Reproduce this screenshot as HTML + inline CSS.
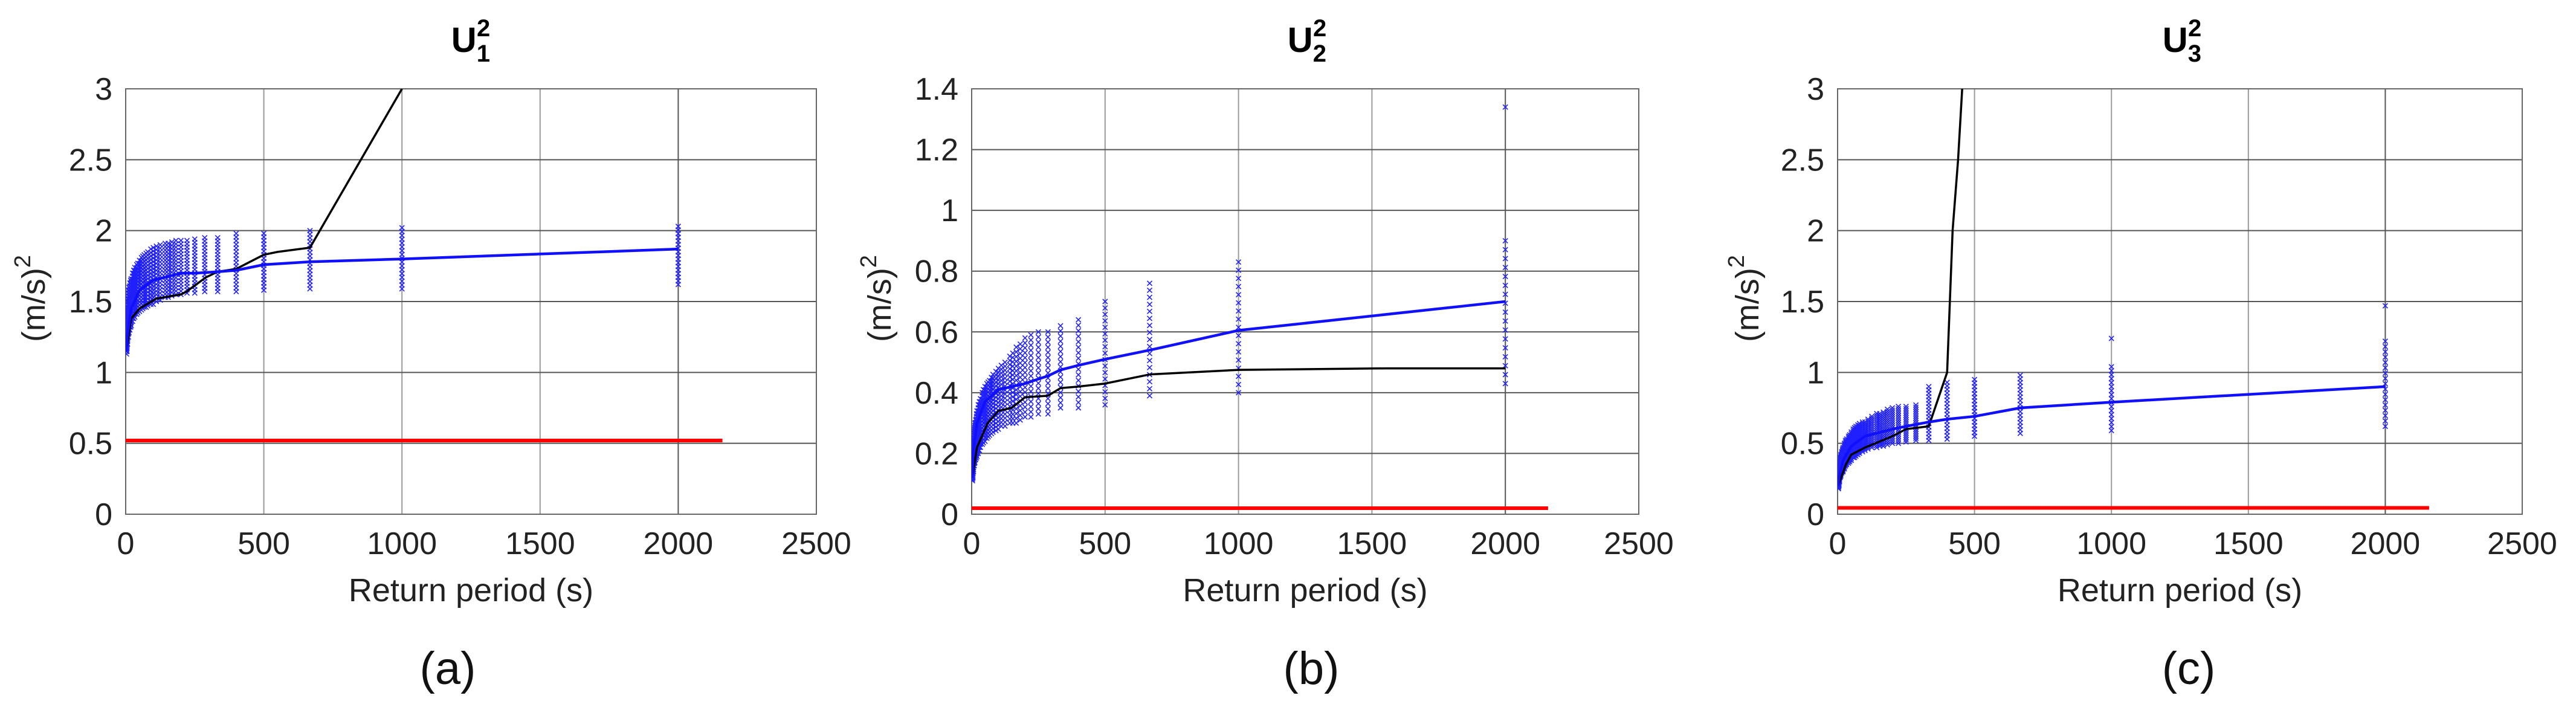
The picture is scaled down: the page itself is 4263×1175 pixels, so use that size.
<!DOCTYPE html>
<html><head><meta charset="utf-8"><style>
html,body{margin:0;padding:0;background:#fff;}
svg{display:block;font-family:"Liberation Sans",sans-serif;}
</style></head><body>
<svg id="chart" width="4263" height="1175" viewBox="0 0 4263 1175" xmlns="http://www.w3.org/2000/svg"></svg>
<script>
// ---------- Panel (a) data ----------
const aBlueT=[2,5,20,50,100,200,250,333,400,500,667,1000,2000];
const aBlueV=[1.15,1.25,1.45,1.58,1.65,1.70,1.70,1.71,1.72,1.76,1.78,1.80,1.87];
const aBlackT=[2,20,50,110,200,220,290,333,400,500,550,667,1000];
const aBlackV=[1.15,1.38,1.45,1.52,1.55,1.57,1.67,1.71,1.73,1.83,1.85,1.88,3.0];
const aColT=[3,5,7,10,12,15,18,20,25,29,33,40,44,50,57,62,67,74,80,91,100,111,125,143,154,167,182,200,222,250,286,333,400,500,667,1000,2000];
const aColLo=[1.13,1.15,1.2,1.25,1.28,1.3,1.32,1.33,1.36,1.38,1.39,1.41,1.42,1.43,1.44,1.45,1.46,1.46,1.47,1.48,1.48,1.5,1.51,1.53,1.53,1.54,1.55,1.55,1.56,1.56,1.57,1.57,1.57,1.58,1.59,1.59,1.62];
const aColHi=[1.4,1.45,1.52,1.58,1.6,1.63,1.65,1.66,1.7,1.72,1.74,1.76,1.77,1.79,1.81,1.82,1.83,1.84,1.85,1.87,1.88,1.89,1.9,1.91,1.91,1.92,1.93,1.93,1.93,1.94,1.95,1.95,1.98,1.98,2.0,2.02,2.03];
const aRed=0.52;
// ---------- Panel (b) data ----------
const bBlueT=[2,5,20,50,100,200,250,286,333,400,500,667,1000,2000];
const bBlueV=[0.12,0.2,0.30,0.37,0.41,0.43,0.445,0.455,0.475,0.49,0.51,0.54,0.605,0.70];
const bBlackT=[2,20,60,100,150,200,286,333,400,500,667,1000,1550,2000];
const bBlackV=[0.12,0.22,0.30,0.34,0.35,0.385,0.39,0.415,0.42,0.43,0.46,0.475,0.48,0.48];
const bColT=[3,5,7,10,12,15,18,20,25,29,33,40,44,50,57,62,67,74,80,91,100,111,125,143,154,167,182,200,222,250,286,333,400,500,667,1000,2000];
const bColLo=[0.11,0.12,0.14,0.16,0.17,0.18,0.185,0.19,0.2,0.21,0.22,0.23,0.235,0.24,0.25,0.255,0.26,0.265,0.27,0.275,0.28,0.29,0.29,0.3,0.3,0.3,0.31,0.32,0.32,0.33,0.33,0.35,0.35,0.36,0.39,0.40,0.43];
const bColHi=[0.18,0.22,0.25,0.28,0.3,0.31,0.33,0.34,0.36,0.37,0.38,0.40,0.41,0.42,0.43,0.435,0.44,0.45,0.46,0.47,0.48,0.49,0.5,0.52,0.53,0.55,0.56,0.58,0.59,0.60,0.60,0.62,0.64,0.70,0.76,0.83,0.90];
const bOutT=[2000];
const bOutV=[1.34];
const bRed=0.02;
// ---------- Panel (c) data ----------
const cBlueT=[2,5,20,50,100,200,250,333,400,500,667,1000,2000];
const cBlueV=[0.2,0.26,0.38,0.48,0.55,0.60,0.62,0.65,0.67,0.69,0.75,0.79,0.90];
const cBlackT=[2,30,50,100,200,250,333,400,420,440,455];
const cBlackV=[0.2,0.35,0.42,0.47,0.55,0.60,0.62,1.0,2.0,2.5,3.0];
const cColT=[3,5,7,10,12,15,18,20,25,29,33,40,44,50,57,62,67,74,80,91,100,111,125,143,154,167,182,200,222,250,286,333,400,500,667,1000,2000];
const cColLo=[0.18,0.2,0.23,0.26,0.27,0.29,0.3,0.3,0.32,0.34,0.35,0.36,0.37,0.38,0.4,0.4,0.41,0.42,0.43,0.44,0.45,0.46,0.47,0.47,0.48,0.48,0.49,0.5,0.5,0.51,0.52,0.52,0.53,0.55,0.57,0.59,0.62];
const cColHi=[0.26,0.3,0.35,0.4,0.42,0.44,0.46,0.47,0.5,0.52,0.53,0.55,0.56,0.58,0.6,0.61,0.62,0.63,0.64,0.65,0.65,0.67,0.69,0.71,0.71,0.72,0.74,0.75,0.76,0.76,0.77,0.90,0.93,0.95,0.98,1.04,1.22];
const cOutT=[1000,2000];
const cOutV=[1.24,1.47];
const cRed=0.045;
// ticks
const xTicks=[0,500,1000,1500,2000,2500];
const yTicksA=[0,0.5,1,1.5,2,2.5,3];
const yTicksB=[0,0.2,0.4,0.6,0.8,1,1.2,1.4];
const yTicksC=[0,0.5,1,1.5,2,2.5,3];

const NS="http://www.w3.org/2000/svg";
const svg=document.getElementById('chart');
function mk(tag,attrs,parent){const e=document.createElementNS(NS,tag);for(const k in attrs)e.setAttribute(k,attrs[k]);(parent||svg).appendChild(e);return e;}

function panel(p){
  const g=mk('g',{});
  
  
  const L=p.left,R=p.right,T=147,B=851;
  const sx=v=>L+(v/2500)*(R-L);
  const sy=v=>B-(v/p.ymax)*(B-T);
  const cp=mk('clipPath',{id:'clip'+p.id},g);
  mk('rect',{x:L,y:T,width:R-L,height:B-T},cp);
  xTicks.forEach(t=>{
    const l=mk('line',{x1:sx(t),x2:sx(t),y1:T,y2:B,stroke:t===2000?'#555':'#999','stroke-width':2},g);
    
    
    const tx=mk('text',{x:sx(t),y:917,'font-size':52,'text-anchor':'middle',fill:'#222'},g);
    tx.textContent=t;
    
    
  });
  p.yticks.forEach(t=>{
    const l=mk('line',{x1:L,x2:R,y1:sy(t),y2:sy(t),stroke:'#555','stroke-width':2},g);
    
    
    const tx=mk('text',{x:L-22,y:sy(t)+18,'font-size':52,'text-anchor':'end',fill:'#222'},g);
    tx.textContent=t;
    
    
  });
  const fr=mk('rect',{x:L,y:T,width:R-L,height:B-T,fill:'none',stroke:'#666','stroke-width':2},g);
  
  
  const d=mk('g',{'clip-path':'url(#clip'+p.id+')'},g);
  const sc=mk('g',{stroke:'#2020ff','stroke-width':1.6},d);
  
  
  const mark=(x,y)=>{mk('path',{d:`M${x-4},${y-4}L${x+4},${y+4}M${x-4},${y+4}L${x+4},${y-4}`},sc);};
  p.colT.forEach((t,i)=>{
    const n=16;
    for(let k=0;k<=n;k++){const v=p.lo[i]+(p.hi[i]-p.lo[i])*k/n;mark(sx(t),sy(v));}
  });
  (p.outT||[]).forEach((t,i)=>mark(sx(t),sy(p.outV[i])));
  const red=mk('line',{x1:sx(0),x2:sx(2160),y1:sy(p.red),y2:sy(p.red),stroke:'#ff0000','stroke-width':6},d);
  
  
  const pl=(ts,vs,col,w,name)=>{const e=mk('polyline',{points:ts.map((t,i)=>sx(t)+','+sy(vs[i])).join(' '),fill:'none',stroke:col,'stroke-width':w},d);
    
    };
  pl(p.blackT,p.blackV,'#000',3.5,'fitted-line');
  pl(p.blueT,p.blueV,'#1010ff',4.5,'mean-line');
  const tt=mk('text',{x:p.tx,y:86,'font-size':58,'font-weight':'bold','text-anchor':'middle'},g);
  tt.innerHTML='U<tspan dy="16" font-size="40">'+p.sub+'</tspan><tspan dx="-22" dy="-42" font-size="40">2</tspan>';
  
  
  const xt=mk('text',{x:(L+R)/2,y:995,'font-size':54,'text-anchor':'middle',fill:'#222'},g);
  xt.textContent='Return period (s)';
  
  
  const yt=mk('text',{x:0,y:0,'font-size':54,'text-anchor':'middle',fill:'#222',transform:`translate(${p.ylx},494) rotate(-90)`},g);
  yt.innerHTML='(m/s)<tspan dy="-24" font-size="38">2</tspan>';
  
  
  const cap=mk('text',{x:p.capx,y:1132,'font-size':76,'text-anchor':'middle',fill:'#111'},g);
  cap.textContent='('+p.id+')';
  
  
}
panel({id:'a',left:208,right:1351,ymax:3,yticks:yTicksA,colT:aColT,lo:aColLo,hi:aColHi,red:aRed,blueT:aBlueT,blueV:aBlueV,blackT:aBlackT,blackV:aBlackV,tx:779,sub:'1',ylx:74,capx:741});
panel({id:'b',left:1608,right:2712,ymax:1.4,yticks:yTicksB,colT:bColT,lo:bColLo,hi:bColHi,outT:bOutT,outV:bOutV,red:bRed,blueT:bBlueT,blueV:bBlueV,blackT:bBlackT,blackV:bBlackV,tx:2163,sub:'2',ylx:1474,capx:2170});
panel({id:'c',left:3041,right:4174,ymax:3,yticks:yTicksC,colT:cColT,lo:cColLo,hi:cColHi,outT:cOutT,outV:cOutV,red:cRed,blueT:cBlueT,blueV:cBlueV,blackT:cBlackT,blackV:cBlackV,tx:3611,sub:'3',ylx:2910,capx:3622});
</script>
</body></html>
